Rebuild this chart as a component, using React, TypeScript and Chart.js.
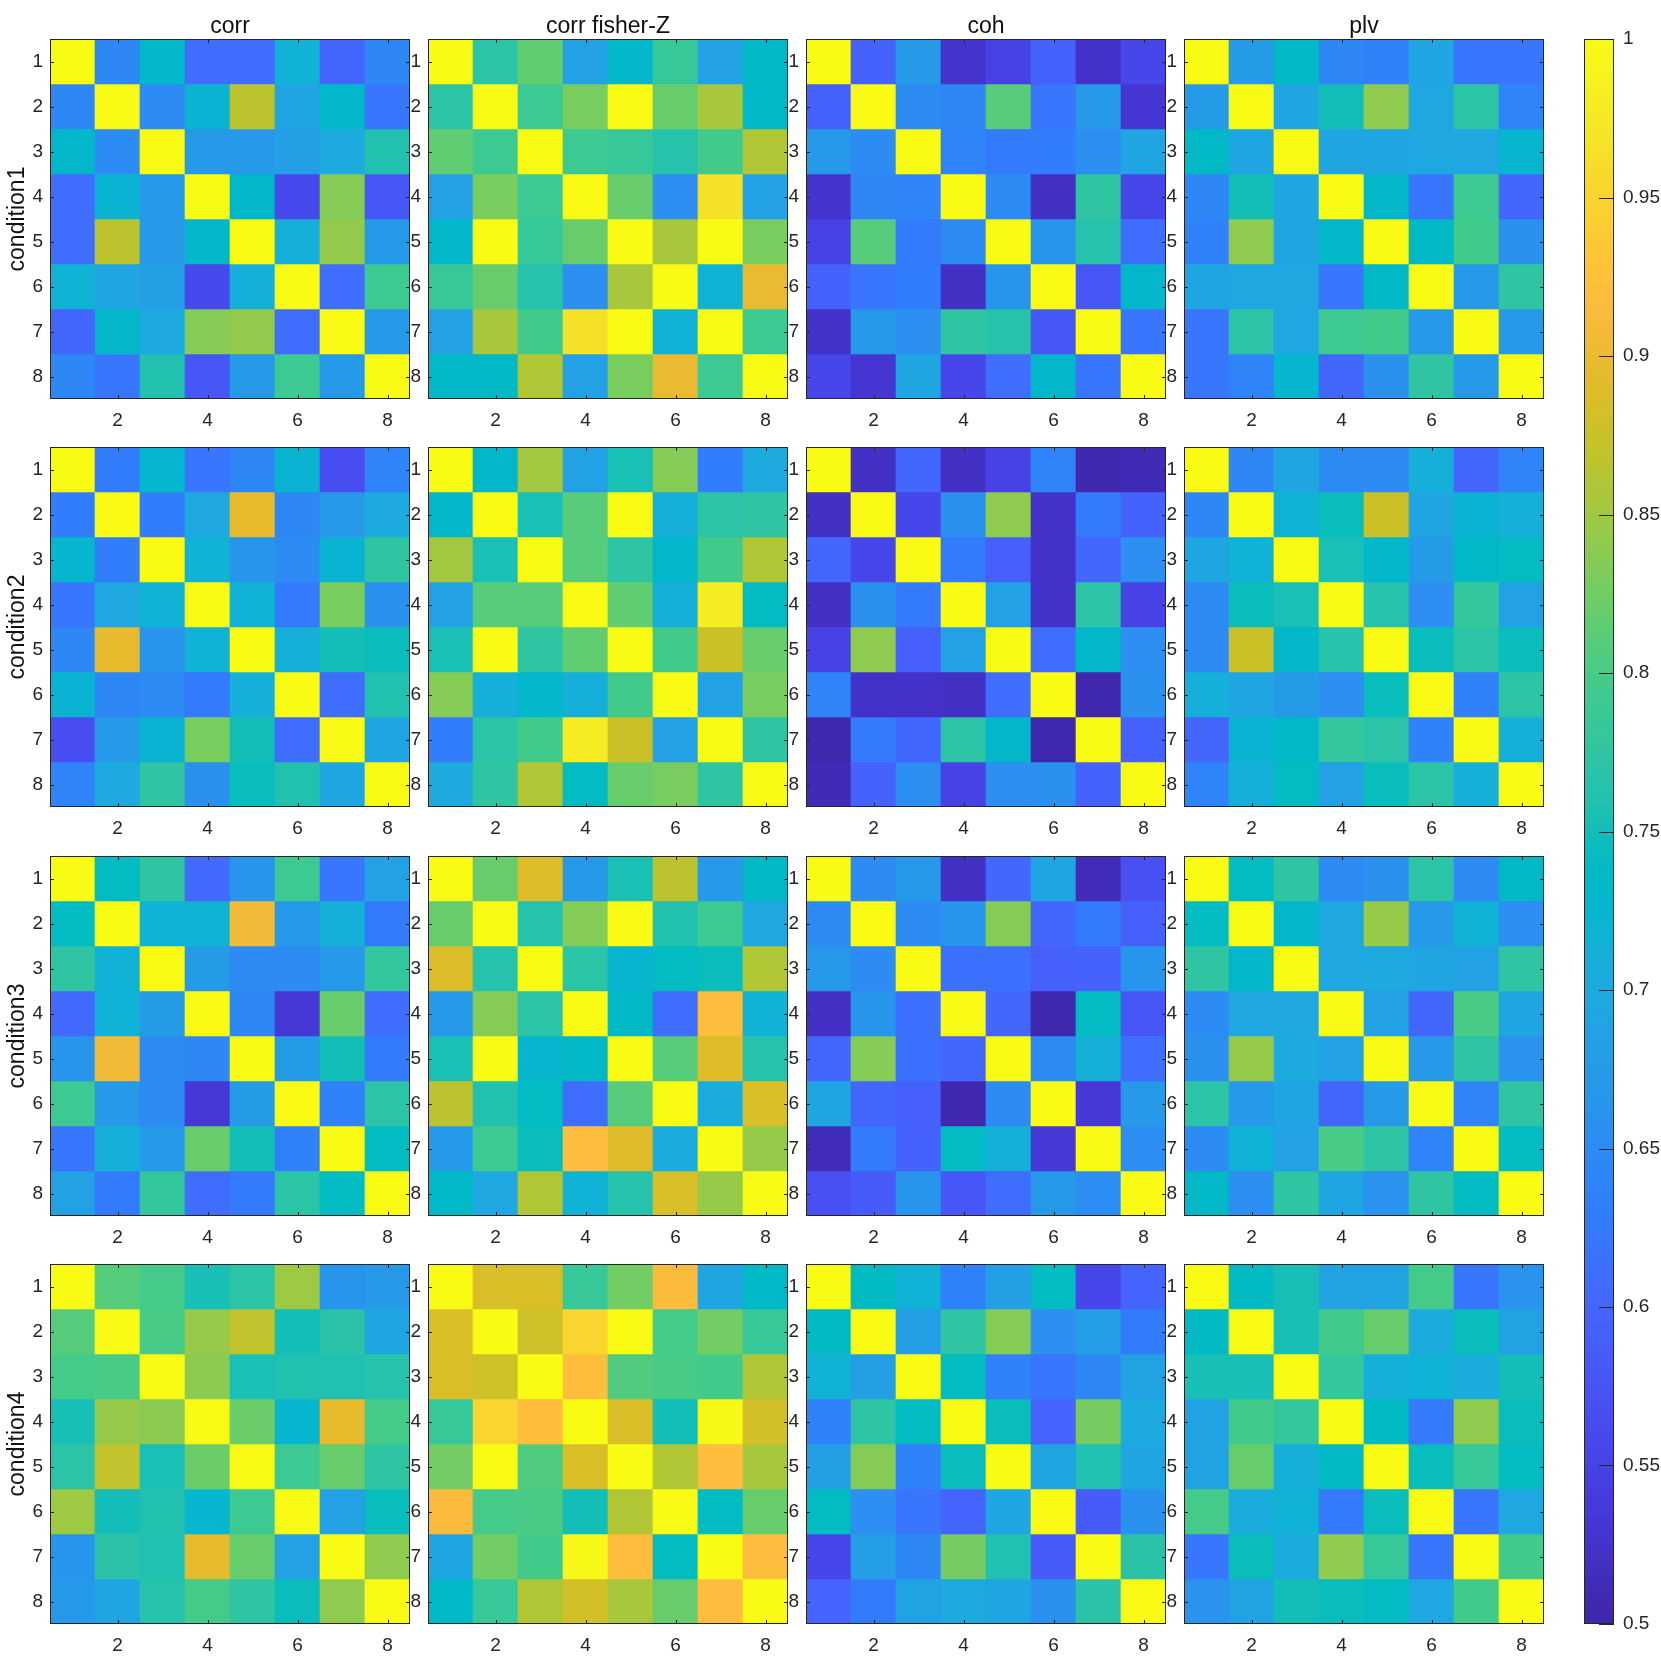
import React, { useEffect, useRef } from 'react';
import { Chart, registerables } from 'chart.js';

Chart.register(...registerables);

// ---------------- data ----------------
const measures = ['corr', 'corr fisher-Z', 'coh', 'plv'];
const conditions = ['condition1', 'condition2', 'condition3', 'condition4'];
const channels = ['1', '2', '3', '4', '5', '6', '7', '8'];
const xTickLabels = ['2', '4', '6', '8'];
const colorbarTicks = [0.5, 0.55, 0.6, 0.65, 0.7, 0.75, 0.8, 0.85, 0.9, 0.95, 1];
const cmin = 0.5;
const cmax = 1;

const cond1Corr = [
  [1, 0.645, 0.73, 0.61, 0.61, 0.715, 0.6, 0.645],
  [0.645, 1, 0.65, 0.72, 0.866, 0.69, 0.73, 0.62],
  [0.73, 0.65, 1, 0.67, 0.67, 0.68, 0.7, 0.76],
  [0.61, 0.72, 0.67, 1, 0.73, 0.56, 0.835, 0.58],
  [0.61, 0.866, 0.67, 0.73, 1, 0.71, 0.842, 0.67],
  [0.715, 0.69, 0.68, 0.56, 0.71, 1, 0.61, 0.79],
  [0.6, 0.73, 0.7, 0.835, 0.842, 0.61, 1, 0.67],
  [0.645, 0.62, 0.76, 0.58, 0.67, 0.79, 0.67, 1],
];
const cond1FisherZ = [
  [1, 0.77, 0.815, 0.685, 0.73, 0.785, 0.685, 0.735],
  [0.77, 1, 0.79, 0.83, 1, 0.82, 0.855, 0.735],
  [0.815, 0.79, 1, 0.79, 0.785, 0.765, 0.795, 0.86],
  [0.685, 0.83, 0.79, 1, 0.82, 0.655, 0.965, 0.685],
  [0.73, 1, 0.785, 0.82, 1, 0.855, 1, 0.83],
  [0.785, 0.82, 0.765, 0.655, 0.855, 1, 0.715, 0.9],
  [0.685, 0.855, 0.795, 0.965, 1, 0.715, 1, 0.79],
  [0.735, 0.735, 0.86, 0.685, 0.83, 0.9, 0.79, 1],
];
const cond1Coh = [
  [1, 0.595, 0.67, 0.527, 0.55, 0.595, 0.525, 0.555],
  [0.595, 1, 0.65, 0.645, 0.81, 0.62, 0.67, 0.53],
  [0.67, 0.65, 1, 0.64, 0.625, 0.63, 0.655, 0.69],
  [0.527, 0.645, 0.64, 1, 0.65, 0.52, 0.775, 0.555],
  [0.55, 0.81, 0.625, 0.65, 1, 0.665, 0.765, 0.61],
  [0.595, 0.62, 0.63, 0.52, 0.665, 1, 0.58, 0.73],
  [0.525, 0.67, 0.655, 0.775, 0.765, 0.58, 1, 0.62],
  [0.555, 0.53, 0.69, 0.555, 0.61, 0.73, 0.62, 1],
];
const cond1Plv = [
  [1, 0.675, 0.735, 0.645, 0.635, 0.69, 0.62, 0.62],
  [0.675, 1, 0.69, 0.75, 0.84, 0.695, 0.77, 0.64],
  [0.735, 0.69, 1, 0.69, 0.69, 0.695, 0.695, 0.725],
  [0.645, 0.75, 0.69, 1, 0.73, 0.62, 0.79, 0.6],
  [0.635, 0.84, 0.69, 0.73, 1, 0.735, 0.795, 0.66],
  [0.69, 0.695, 0.695, 0.62, 0.735, 1, 0.67, 0.775],
  [0.62, 0.77, 0.695, 0.79, 0.795, 0.67, 1, 0.67],
  [0.62, 0.64, 0.725, 0.6, 0.66, 0.775, 0.67, 1],
];

const cond2Corr = [
  [1, 0.63, 0.725, 0.62, 0.645, 0.72, 0.565, 0.64],
  [0.63, 1, 0.63, 0.695, 0.897, 0.645, 0.67, 0.7],
  [0.725, 0.63, 1, 0.715, 0.665, 0.65, 0.72, 0.775],
  [0.62, 0.695, 0.715, 1, 0.715, 0.625, 0.83, 0.66],
  [0.645, 0.897, 0.665, 0.715, 1, 0.71, 0.75, 0.745],
  [0.72, 0.645, 0.65, 0.625, 0.71, 1, 0.61, 0.76],
  [0.565, 0.67, 0.72, 0.83, 0.75, 0.61, 1, 0.69],
  [0.64, 0.7, 0.775, 0.66, 0.745, 0.76, 0.69, 1],
];
const cond2FisherZ = [
  [1, 0.73, 0.85, 0.685, 0.755, 0.835, 0.63, 0.7],
  [0.73, 1, 0.755, 0.81, 1, 0.71, 0.77, 0.775],
  [0.85, 0.755, 1, 0.81, 0.775, 0.73, 0.795, 0.86],
  [0.685, 0.81, 0.81, 1, 0.815, 0.71, 0.98, 0.74],
  [0.755, 1, 0.775, 0.815, 1, 0.795, 0.875, 0.82],
  [0.835, 0.71, 0.73, 0.71, 0.795, 1, 0.685, 0.83],
  [0.63, 0.77, 0.795, 0.98, 0.875, 0.685, 1, 0.775],
  [0.7, 0.775, 0.86, 0.74, 0.82, 0.83, 0.775, 1],
];
const cond2Coh = [
  [1, 0.52, 0.6, 0.52, 0.55, 0.64, 0.505, 0.51],
  [0.52, 1, 0.555, 0.66, 0.84, 0.525, 0.625, 0.595],
  [0.6, 0.555, 1, 0.625, 0.59, 0.525, 0.6, 0.655],
  [0.52, 0.66, 0.625, 1, 0.685, 0.525, 0.77, 0.55],
  [0.55, 0.84, 0.59, 0.685, 1, 0.61, 0.73, 0.655],
  [0.64, 0.525, 0.525, 0.52, 0.61, 1, 0.505, 0.66],
  [0.505, 0.625, 0.6, 0.77, 0.73, 0.505, 1, 0.595],
  [0.51, 0.595, 0.655, 0.55, 0.655, 0.66, 0.595, 1],
];
const cond2Plv = [
  [1, 0.645, 0.69, 0.65, 0.65, 0.71, 0.6, 0.64],
  [0.645, 1, 0.715, 0.745, 0.875, 0.69, 0.72, 0.71],
  [0.69, 0.715, 1, 0.755, 0.73, 0.675, 0.735, 0.74],
  [0.65, 0.745, 0.755, 1, 0.765, 0.655, 0.78, 0.685],
  [0.65, 0.875, 0.73, 0.765, 1, 0.745, 0.77, 0.745],
  [0.71, 0.69, 0.675, 0.655, 0.745, 1, 0.635, 0.77],
  [0.6, 0.72, 0.735, 0.78, 0.77, 0.635, 1, 0.71],
  [0.64, 0.71, 0.74, 0.685, 0.745, 0.77, 0.71, 1],
];

const cond3Corr = [
  [1, 0.74, 0.775, 0.605, 0.665, 0.79, 0.62, 0.685],
  [0.74, 1, 0.715, 0.715, 0.905, 0.67, 0.71, 0.625],
  [0.775, 0.715, 1, 0.675, 0.65, 0.65, 0.67, 0.78],
  [0.605, 0.715, 0.675, 1, 0.645, 0.535, 0.82, 0.61],
  [0.665, 0.905, 0.65, 0.645, 1, 0.675, 0.75, 0.625],
  [0.79, 0.67, 0.65, 0.535, 0.675, 1, 0.635, 0.77],
  [0.62, 0.71, 0.67, 0.82, 0.75, 0.635, 1, 0.74],
  [0.685, 0.625, 0.78, 0.61, 0.625, 0.77, 0.74, 1],
];
const cond3FisherZ = [
  [1, 0.82, 0.887, 0.67, 0.755, 0.866, 0.67, 0.735],
  [0.82, 1, 0.765, 0.835, 1, 0.76, 0.79, 0.695],
  [0.887, 0.765, 1, 0.77, 0.725, 0.74, 0.745, 0.86],
  [0.67, 0.835, 0.77, 1, 0.735, 0.61, 0.918, 0.715],
  [0.755, 1, 0.725, 0.735, 1, 0.81, 0.892, 0.765],
  [0.866, 0.76, 0.74, 0.61, 0.81, 1, 0.705, 0.885],
  [0.67, 0.79, 0.745, 0.918, 0.892, 0.705, 1, 0.845],
  [0.735, 0.695, 0.86, 0.715, 0.765, 0.885, 0.845, 1],
];
const cond3Coh = [
  [1, 0.65, 0.67, 0.52, 0.6, 0.69, 0.512, 0.57],
  [0.65, 1, 0.65, 0.665, 0.835, 0.6, 0.625, 0.59],
  [0.67, 0.65, 1, 0.615, 0.615, 0.59, 0.595, 0.665],
  [0.52, 0.665, 0.615, 1, 0.6, 0.505, 0.74, 0.58],
  [0.6, 0.835, 0.615, 0.6, 1, 0.65, 0.712, 0.61],
  [0.69, 0.6, 0.59, 0.505, 0.65, 1, 0.535, 0.67],
  [0.512, 0.625, 0.595, 0.74, 0.712, 0.535, 1, 0.653],
  [0.57, 0.585, 0.665, 0.58, 0.61, 0.67, 0.653, 1],
];
const cond3Plv = [
  [1, 0.74, 0.775, 0.65, 0.66, 0.77, 0.65, 0.735],
  [0.74, 1, 0.73, 0.695, 0.845, 0.67, 0.715, 0.655],
  [0.775, 0.73, 1, 0.695, 0.7, 0.69, 0.685, 0.775],
  [0.65, 0.695, 0.695, 1, 0.685, 0.6, 0.8, 0.69],
  [0.66, 0.845, 0.7, 0.685, 1, 0.67, 0.772, 0.662],
  [0.77, 0.67, 0.69, 0.6, 0.67, 1, 0.64, 0.775],
  [0.65, 0.715, 0.685, 0.8, 0.772, 0.64, 1, 0.74],
  [0.735, 0.655, 0.775, 0.69, 0.662, 0.775, 0.74, 1],
];

const cond4Corr = [
  [1, 0.808, 0.797, 0.752, 0.77, 0.848, 0.665, 0.67],
  [0.808, 1, 0.8, 0.845, 0.87, 0.75, 0.768, 0.69],
  [0.797, 0.8, 1, 0.838, 0.755, 0.76, 0.758, 0.765],
  [0.752, 0.845, 0.838, 1, 0.822, 0.725, 0.895, 0.797],
  [0.77, 0.87, 0.755, 0.822, 1, 0.79, 0.82, 0.775],
  [0.848, 0.75, 0.76, 0.725, 0.79, 1, 0.685, 0.745],
  [0.665, 0.768, 0.758, 0.895, 0.82, 0.685, 1, 0.84],
  [0.67, 0.69, 0.765, 0.797, 0.775, 0.745, 0.84, 1],
];
const cond4FisherZ = [
  [1, 0.885, 0.885, 0.785, 0.825, 0.915, 0.69, 0.735],
  [0.885, 1, 0.878, 0.95, 1, 0.797, 0.825, 0.785],
  [0.885, 0.878, 1, 0.92, 0.805, 0.8, 0.795, 0.86],
  [0.785, 0.95, 0.92, 1, 0.885, 0.75, 0.995, 0.882],
  [0.825, 1, 0.805, 0.885, 1, 0.86, 0.918, 0.855],
  [0.915, 0.797, 0.8, 0.75, 0.86, 1, 0.74, 0.82],
  [0.69, 0.825, 0.795, 0.995, 0.918, 0.74, 1, 0.918],
  [0.735, 0.785, 0.86, 0.882, 0.855, 0.82, 0.918, 1],
];
const cond4Coh = [
  [1, 0.738, 0.715, 0.635, 0.68, 0.74, 0.555, 0.597],
  [0.738, 1, 0.68, 0.773, 0.835, 0.655, 0.678, 0.628],
  [0.715, 0.68, 1, 0.74, 0.635, 0.62, 0.645, 0.688],
  [0.635, 0.773, 0.74, 1, 0.745, 0.597, 0.828, 0.7],
  [0.68, 0.835, 0.635, 0.745, 1, 0.69, 0.758, 0.69],
  [0.74, 0.655, 0.62, 0.597, 0.69, 1, 0.585, 0.66],
  [0.555, 0.678, 0.645, 0.828, 0.758, 0.585, 1, 0.768],
  [0.597, 0.628, 0.688, 0.7, 0.69, 0.66, 0.768, 1],
];
const cond4Plv = [
  [1, 0.738, 0.752, 0.688, 0.688, 0.797, 0.622, 0.662],
  [0.738, 1, 0.752, 0.795, 0.82, 0.705, 0.745, 0.688],
  [0.752, 0.752, 1, 0.78, 0.71, 0.715, 0.705, 0.75],
  [0.688, 0.795, 0.78, 1, 0.738, 0.625, 0.84, 0.745],
  [0.688, 0.82, 0.71, 0.738, 1, 0.745, 0.785, 0.74],
  [0.797, 0.705, 0.715, 0.625, 0.745, 1, 0.622, 0.695],
  [0.622, 0.745, 0.705, 0.84, 0.785, 0.622, 1, 0.795],
  [0.662, 0.688, 0.75, 0.745, 0.74, 0.695, 0.795, 1],
];

const matrices = [
  [cond1Corr, cond1FisherZ, cond1Coh, cond1Plv],
  [cond2Corr, cond2FisherZ, cond2Coh, cond2Plv],
  [cond3Corr, cond3FisherZ, cond3Coh, cond3Plv],
  [cond4Corr, cond4FisherZ, cond4Coh, cond4Plv],
];

// ---------------- colormap (parula, 64 entries) ----------------
const PARULA: number[][] = [
  [0.2422, 0.1504, 0.6603], [0.2504, 0.165, 0.7076], [0.2578, 0.1818, 0.7511], [0.2647, 0.1978, 0.7952],
  [0.2706, 0.2147, 0.8364], [0.2751, 0.2342, 0.871], [0.2783, 0.2559, 0.8991], [0.2803, 0.2782, 0.9221],
  [0.2813, 0.3006, 0.9414], [0.281, 0.3228, 0.9579], [0.2795, 0.3447, 0.9717], [0.276, 0.3667, 0.9829],
  [0.2699, 0.3892, 0.9906], [0.2602, 0.4123, 0.9952], [0.244, 0.4358, 0.9988], [0.2206, 0.4603, 0.9973],
  [0.1963, 0.4847, 0.9892], [0.1834, 0.5074, 0.9798], [0.1786, 0.5289, 0.9682], [0.1764, 0.5499, 0.952],
  [0.1687, 0.5703, 0.9359], [0.154, 0.5902, 0.9218], [0.146, 0.6091, 0.9079], [0.138, 0.6276, 0.8973],
  [0.1248, 0.6459, 0.8883], [0.1113, 0.6635, 0.8763], [0.0952, 0.6798, 0.8598], [0.0689, 0.6948, 0.8394],
  [0.0297, 0.7082, 0.8163], [0.0036, 0.7203, 0.7917], [0.0067, 0.7312, 0.766], [0.0433, 0.7411, 0.7394],
  [0.0964, 0.75, 0.712], [0.1408, 0.7584, 0.6842], [0.1717, 0.767, 0.6554], [0.1938, 0.7758, 0.6251],
  [0.2161, 0.7843, 0.5923], [0.247, 0.7918, 0.5567], [0.2906, 0.7973, 0.5188], [0.3406, 0.8008, 0.4789],
  [0.3909, 0.8029, 0.4354], [0.4456, 0.8024, 0.3909], [0.5044, 0.7993, 0.348], [0.5616, 0.7942, 0.3045],
  [0.6174, 0.7876, 0.2612], [0.672, 0.7793, 0.2227], [0.7242, 0.7698, 0.191], [0.7738, 0.7598, 0.1646],
  [0.8203, 0.7498, 0.1535], [0.8634, 0.7406, 0.1596], [0.9035, 0.733, 0.1774], [0.9393, 0.7288, 0.21],
  [0.9728, 0.7298, 0.2394], [0.9956, 0.7434, 0.2371], [0.997, 0.7659, 0.2199], [0.9952, 0.7893, 0.2028],
  [0.9892, 0.8136, 0.1885], [0.9786, 0.8386, 0.1766], [0.9676, 0.8639, 0.1643], [0.961, 0.889, 0.1537],
  [0.9597, 0.9135, 0.1423], [0.9628, 0.9373, 0.1265], [0.9691, 0.9606, 0.1064], [0.9769, 0.9839, 0.0805],
];
const NCOLORS = 256;

function parulaAt(t: number): string {
  const p = Math.min(1, Math.max(0, t)) * (PARULA.length - 1);
  const i = Math.floor(p);
  const j = Math.min(PARULA.length - 1, i + 1);
  const f = p - i;
  const c = [0, 1, 2].map((k) => Math.round((PARULA[i][k] * (1 - f) + PARULA[j][k] * f) * 255));
  return `rgb(${c[0]},${c[1]},${c[2]})`;
}
function colorFor(v: number): string {
  let k = Math.floor(((v - cmin) / (cmax - cmin)) * NCOLORS);
  k = Math.max(0, Math.min(NCOLORS - 1, k));
  return parulaAt(k / (NCOLORS - 1));
}

// ---------------- styles / layout ----------------
const FONT = "'Liberation Sans', Arial, Helvetica, sans-serif";
const TEXT = '#262626';
const TICK_SIZE = 19;
const TITLE_SIZE = 23;
const PANEL = 360;
const LEFT0 = 49.5;
const PITCH_X = 378.2;
const TOP0 = 39;
const PITCH_Y = 408.3;

Chart.defaults.font.family = FONT;
Chart.defaults.color = TEXT;

const boxTicksPlugin = {
  id: 'boxTicks',
  afterDatasetsDraw(chart: any, _args: any, opts: any) {
    const { ctx, chartArea: a } = chart;
    ctx.save();
    ctx.strokeStyle = opts.color || TEXT;
    ctx.lineWidth = 1;
    ctx.beginPath();
    const len = opts.len || 4;
    if (opts.xTicks) {
      for (const xv of opts.xTicks) {
        const px = Math.round(chart.scales.x.getPixelForValue(xv)) + 0.5;
        ctx.moveTo(px, a.top);
        ctx.lineTo(px, a.top + len);
        ctx.moveTo(px, a.bottom);
        ctx.lineTo(px, a.bottom - len);
      }
    }
    if (opts.yTicks) {
      for (const yv of opts.yTicks) {
        const py = Math.round(chart.scales.y.getPixelForValue(yv)) + 0.5;
        if (!opts.rightOnly) {
          ctx.moveTo(a.left, py);
          ctx.lineTo(a.left + len, py);
        }
        ctx.moveTo(a.right, py);
        ctx.lineTo(a.right - len, py);
      }
    }
    ctx.stroke();
    ctx.strokeRect(a.left + 0.5, a.top + 0.5, a.right - a.left - 1, a.bottom - a.top - 1);
    ctx.restore();
  },
};

function Panel({ row, col }: { row: number; col: number }) {
  const ref = useRef<HTMLCanvasElement>(null);
  const panelLeft = Math.round(LEFT0 + col * PITCH_X);
  const panelTop = Math.round(TOP0 + row * PITCH_Y);
  const L = col === 0 ? panelLeft : 20;
  const T = row === 0 ? 39 : 24;
  const R = 2;
  const B = 42;
  const w = L + PANEL + R;
  const h = T + PANEL + B;

  useEffect(() => {
    const M = matrices[row][col];
    const datasets = M.map((vals, r) => ({
      xAxisID: 'x',
      yAxisID: 'y',
      data: vals.map(() => [r + 0.5, r + 1.5]),
      backgroundColor: vals.map((v) => colorFor(v)),
      borderWidth: 0,
      barPercentage: 1,
      categoryPercentage: 1,
      grouped: false,
    }));
    const scales: any = {
      x: {
        type: 'category',
        position: 'bottom',
        grid: { display: false, drawTicks: false },
        border: { display: false },
        ticks: {
          autoSkip: false,
          maxRotation: 0,
          padding: 10,
          color: TEXT,
          font: { size: TICK_SIZE, family: FONT },
        },
        afterBuildTicks: (s: any) => {
          s.ticks = xTickLabels.map((l) => ({ value: channels.indexOf(l) }));
        },
        afterFit: (s: any) => {
          s.height = B;
        },
      },
      y: {
        type: 'linear',
        min: 0.5,
        max: 8.5,
        reverse: true,
        grid: { display: false, drawTicks: false },
        border: { display: false },
        ticks: {
          padding: 7,
          color: TEXT,
          font: { size: TICK_SIZE, family: FONT },
          callback: (v: any) => String(v),
        },
        afterBuildTicks: (s: any) => {
          s.ticks = channels.map((c) => ({ value: Number(c) }));
        },
        afterFit: (s: any) => {
          s.width = L;
        },
        title: {
          display: col === 0,
          text: conditions[row],
          color: '#111',
          font: { size: TITLE_SIZE, family: FONT },
          padding: { top: 4, bottom: 0 },
        },
      },
    };
    if (row === 0) {
      scales.xt = {
        type: 'category',
        position: 'top',
        grid: { display: false, drawTicks: false },
        border: { display: false },
        ticks: { display: false },
        title: {
          display: true,
          text: measures[col],
          color: '#111',
          font: { size: TITLE_SIZE, family: FONT },
          padding: { top: 13, bottom: 0 },
        },
        afterFit: (s: any) => {
          s.height = T;
        },
      };
    }
    const chart = new Chart(ref.current as HTMLCanvasElement, {
      type: 'bar',
      data: { labels: channels, datasets: datasets as any },
      plugins: [boxTicksPlugin as any],
      options: {
        responsive: false,
        animation: false,
        events: [],
        layout: {
          padding: { left: 0, right: R, top: row === 0 ? 0 : T, bottom: 0 },
        },
        plugins: {
          legend: { display: false },
          tooltip: { enabled: false },
          title: { display: false },
          boxTicks: {
            xTicks: xTickLabels.map((l) => channels.indexOf(l)),
            yTicks: channels.map((c) => Number(c)),
            len: 4,
            color: TEXT,
          },
        } as any,
        scales,
      } as any,
    });
    return () => chart.destroy();
  }, [row, col]);

  return (
    <canvas
      ref={ref}
      width={w}
      height={h}
      style={{ position: 'absolute', left: panelLeft - L, top: panelTop - T, width: w, height: h }}
    />
  );
}

function Colorbar() {
  const ref = useRef<HTMLCanvasElement>(null);
  const cbLeft = 1584;
  const cbWidth = 30;
  const cbTop = 39;
  const cbBottom = 1624;
  const canvasLeft = 1580;
  const w = 81;
  const h = 1661;

  useEffect(() => {
    const steps = Array.from({ length: NCOLORS }, (_, k) => k);
    const span = (cmax - cmin) / NCOLORS;
    const datasets = steps.map((k) => ({
      data: [[cmin + k * span, cmin + (k + 1) * span]],
      backgroundColor: parulaAt(k / (NCOLORS - 1)),
      borderWidth: 0,
      barPercentage: 1,
      categoryPercentage: 1,
      grouped: false,
    }));
    const chart = new Chart(ref.current as HTMLCanvasElement, {
      type: 'bar',
      data: { labels: [''], datasets: datasets as any },
      plugins: [boxTicksPlugin as any],
      options: {
        responsive: false,
        animation: false,
        events: [],
        layout: {
          padding: { left: cbLeft - canvasLeft, right: 0, top: cbTop, bottom: h - cbBottom },
        },
        plugins: {
          legend: { display: false },
          tooltip: { enabled: false },
          boxTicks: { yTicks: colorbarTicks, rightOnly: true, len: 15, color: TEXT },
        } as any,
        scales: {
          x: { type: 'category', display: false },
          y: {
            type: 'linear',
            position: 'right',
            min: cmin,
            max: cmax,
            grid: { display: false, drawTicks: false },
            border: { display: false },
            ticks: {
              padding: 9,
              color: TEXT,
              font: { size: TICK_SIZE, family: FONT },
              callback: (v: any) => String(parseFloat(Number(v).toFixed(2))),
            },
            afterBuildTicks: (s: any) => {
              s.ticks = colorbarTicks.map((v) => ({ value: v }));
            },
            afterFit: (s: any) => {
              s.width = w - (cbLeft - canvasLeft) - cbWidth;
            },
          },
        },
      } as any,
    });
    return () => chart.destroy();
  }, []);

  return (
    <canvas
      ref={ref}
      width={w}
      height={h}
      style={{ position: 'absolute', left: canvasLeft, top: 0, width: w, height: h }}
    />
  );
}

export default function App() {
  const cells: React.ReactElement[] = [];
  for (let r = 0; r < conditions.length; r++) {
    for (let c = 0; c < measures.length; c++) {
      cells.push(<Panel key={`${r}-${c}`} row={r} col={c} />);
    }
  }
  return (
    <div style={{ position: 'absolute', left: 0, top: 0, width: 1661, height: 1661, background: '#ffffff', overflow: 'hidden' }}>
      {cells}
      <Colorbar />
    </div>
  );
}
